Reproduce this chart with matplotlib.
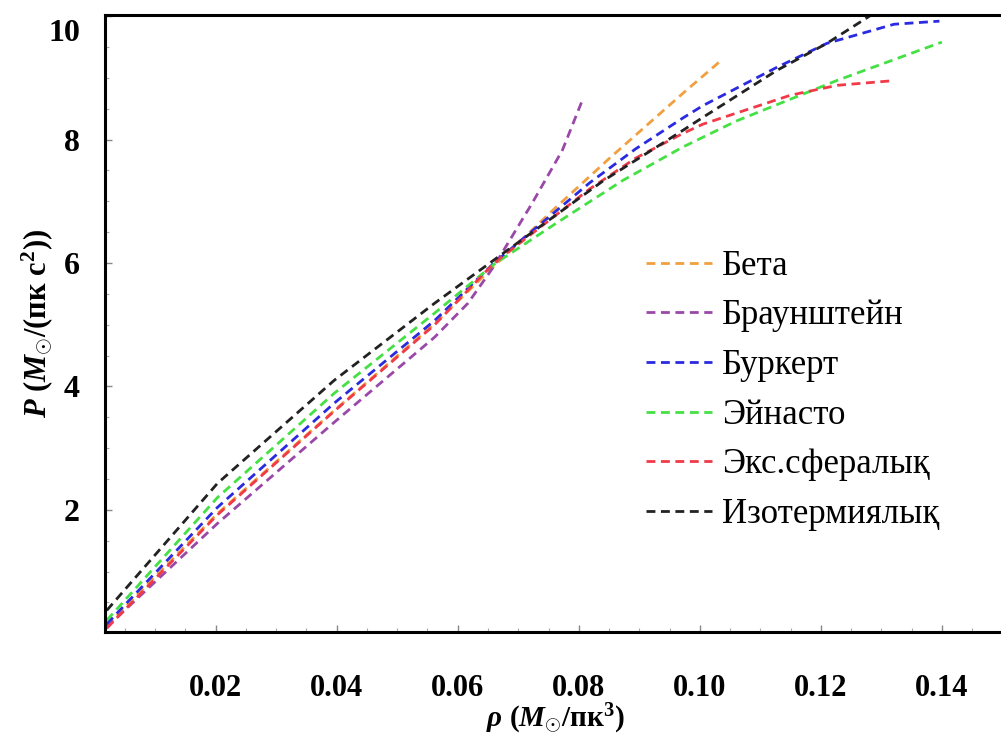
import matplotlib
matplotlib.use('Agg')
import matplotlib.pyplot as plt
from matplotlib.ticker import MultipleLocator, FixedLocator
from matplotlib.transforms import ScaledTranslation

plt.rcParams['font.family'] = ['Liberation Serif', 'DejaVu Serif']
plt.rcParams['mathtext.fontset'] = 'custom'
plt.rcParams['mathtext.rm'] = 'Liberation Serif:bold'
plt.rcParams['mathtext.it'] = 'Liberation Serif:bold:italic'
plt.rcParams['mathtext.bf'] = 'Liberation Serif:bold'

# values (rho, P)
beta_x = [0.002, 0.0203, 0.0396, 0.0562, 0.066, 0.0762, 0.0851, 0.0972, 0.1036]
beta_y = [0.12, 1.94, 3.61, 5.02, 5.95, 6.9, 7.7, 8.75, 9.29]

braun_x = [0.002, 0.0203, 0.0396, 0.0562, 0.0617, 0.066, 0.0723, 0.0773, 0.0806]
braun_y = [0.10, 1.78, 3.42, 4.80, 5.35, 5.95, 6.97, 7.83, 8.64]

burk_x = [0.002, 0.0203, 0.0396, 0.0562, 0.066, 0.0818, 0.0894, 0.0972, 0.1005,
          0.1127, 0.121, 0.1321, 0.1396]
burk_y = [0.15, 2.04, 3.73, 5.07, 6.0, 7.3, 7.85, 8.35, 8.55, 9.17, 9.56, 9.87, 9.92]

einasto_x = [0.002, 0.0203, 0.0396, 0.0562, 0.066, 0.0762, 0.0873, 0.0972, 0.106,
             0.1227, 0.140]
einasto_y = [0.21, 2.2, 3.89, 5.19, 5.98, 6.64, 7.34, 7.88, 8.3, 8.96, 9.58]

exps_x = [0.002, 0.0203, 0.0396, 0.0562, 0.066, 0.0818, 0.0894, 0.0972, 0.1005,
          0.115, 0.1227, 0.1313]
exps_y = [0.08, 1.92, 3.6, 5.0, 6.0, 7.2, 7.7, 8.1, 8.25, 8.72, 8.88, 8.95]

iso_x = [0.002, 0.0203, 0.0396, 0.0562, 0.066, 0.084, 0.0972, 0.1005, 0.1127,
         0.121, 0.1277, 0.13]
iso_y = [0.37, 2.43, 4.10, 5.35, 6.05, 7.33, 8.15, 8.36, 9.12, 9.56, 9.98, 10.13]

labels = ['Бета', 'Браунштейн', 'Буркерт', 'Эйнасто', 'Экс.сфералық', 'Изотермиялық']
colors = ['#f0a040', '#9a48a8', '#2a2ae0', '#44e044', '#f03a48', '#222222']
xticks = [0.02, 0.04, 0.06, 0.08, 0.10, 0.12, 0.14]
yticks = [2, 4, 6, 8, 10]

series = [(beta_x, beta_y), (braun_x, braun_y), (burk_x, burk_y),
          (einasto_x, einasto_y), (exps_x, exps_y), (iso_x, iso_y)]

fig = plt.figure(figsize=(10.01, 7.38), dpi=100)
ax = fig.add_axes([0.105, 0.1436, 0.9, 0.8361])

for (xs, ys), lab, c in zip(series, labels, colors):
    ax.plot(xs, ys, ls=(0, (3.2, 2.0)), lw=2.0, color=c, label=lab)

ax.set_xlim(0.00173, 0.1506)
ax.set_ylim(0.02, 10.02)

ax.xaxis.set_major_locator(FixedLocator(xticks))
ax.yaxis.set_major_locator(FixedLocator(yticks))
ax.xaxis.set_minor_locator(MultipleLocator(0.005))
ax.yaxis.set_minor_locator(MultipleLocator(0.5))
ax.set_xticklabels([f'{t:.2f}' for t in xticks])
ax.set_yticklabels([str(t) for t in yticks])
ax.tick_params(which='major', direction='in', length=5, width=1.0, color='#888888',
               labelsize=23)
ax.tick_params(axis='x', which='major', pad=30, labelsize=22)
ax.tick_params(axis='y', which='major', pad=18)
ax.tick_params(which='minor', direction='in', length=3, width=0.8, color='#aaaaaa')
for lbl in ax.get_xticklabels() + ax.get_yticklabels():
    lbl.set_fontweight('bold')

# top label sits a little lower, as in the reference
top_lbl = ax.get_yticklabels()[-1]
top_lbl.set_transform(top_lbl.get_transform() + ScaledTranslation(0, -0.14, fig.dpi_scale_trans))

for s in ['left', 'bottom', 'top']:
    ax.spines[s].set_linewidth(2.2)
ax.spines['right'].set_visible(False)

ax.set_xlabel(r'$\rho\ (M_{\odot}/\mathrm{пк}^3)$', fontsize=21)
ax.xaxis.set_label_coords(0.5, -0.113)
ax.set_ylabel(r'$P\ (M_{\odot}/(\mathrm{пк\ c}^2))$', fontsize=22)
ax.yaxis.set_label_coords(-0.056, 0.5)

ax.legend(loc='upper left', bbox_to_anchor=(0.628, 0.685), bbox_transform=fig.transFigure,
          frameon=False, fontsize=25, handlelength=1.9, handletextpad=0.3,
          labelspacing=0.48, borderpad=0)

fig.savefig('out.png', dpi=100)
